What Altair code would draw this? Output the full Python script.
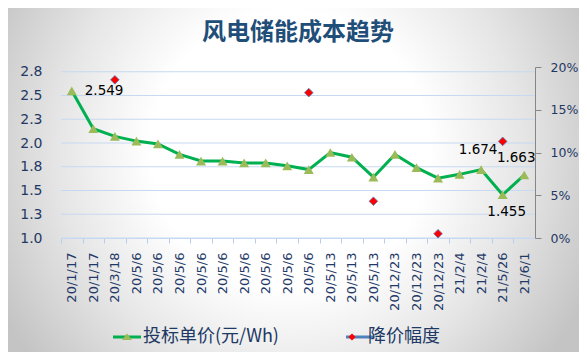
import json
import altair as alt
import pandas as pd

# ---------------- data ----------------
categories = ["20/1/17", "20/1/17", "20/3/18",
              "20/5/6", "20/5/6", "20/5/6", "20/5/6", "20/5/6",
              "20/5/6", "20/5/6", "20/5/6", "20/5/6",
              "20/5/13", "20/5/13", "20/5/13",
              "20/12/23", "20/12/23", "20/12/23",
              "21/2/4", "21/2/4", "21/5/26", "21/6/1"]
price = [2.549, 2.15, 2.07, 2.02, 1.99, 1.88, 1.81, 1.81, 1.79, 1.79, 1.76,
         1.72, 1.90, 1.85, 1.64, 1.88, 1.74, 1.63, 1.67, 1.72, 1.455, 1.663]
drop_pct = [None, None, 18.5, None, None, None, None, None, None, None, None,
            17.0, None, None, 4.3, None, None, 0.5, None, None, 11.3, None]
label_idx = [0, 19, 20, 21]
label_txt = ["2.549", "1.674", "1.455", "1.663"]
series_names = ["投标单价(元/Wh)", "降价幅度"]
line_keys = ["line-0", "line-1"]
left_ticks = [1.0, 1.25, 1.5, 1.75, 2.0, 2.25, 2.5, 2.75]
right_ticks = [0, 0.05, 0.10, 0.15, 0.20]
title_text = "风电储能成本趋势"

labels_full = [""] * len(categories)
for i, t in zip(label_idx, label_txt):
    labels_full[i] = t

df = pd.DataFrame({
    "idx": list(range(len(categories))),
    "cat": categories,
    "price": price,
    "drop": [d / 100 if d is not None else None for d in drop_pct],
    "label": labels_full,
})

W, H = 474, 171
PL, PT, PR, PB = 53, 59, 44, 114

GREEN = "#00b050"
OLIVE = "#9bbb59"
RED = "#ff0000"
BLUE = "#4f81bd"
NAVY = "#1f3864"
GRID = "#c6d9f1"

step = W / len(categories)

x_enc = alt.X(
    "idx:O",
    scale=alt.Scale(type="point", padding=0.5),
    axis=alt.Axis(
        title=None,
        labelExpr=json.dumps(categories) + "[datum.value]",
        labelAngle=270,
        labelFont="DejaVu Sans",
        labelFontSize=13,
        labelColor="#1f3a68",
        labelPadding=9,
        tickOffset=-step / 2,
        labelOffset=step / 2,
        tickSize=5,
        tickColor="#b9cde5",
        domainColor=GRID,
        grid=False,
        zindex=1,
    ),
)

left_scale = alt.Scale(domain=[1.0, 2.8], zero=False, nice=False)
left_axis = alt.Axis(
    title=None,
    values=left_ticks,
    format=".1f",
    grid=False,
    domain=False,
    ticks=False,
    labelFont="DejaVu Sans",
    labelFontSize=14,
    labelColor=NAVY,
    labelPadding=19,
    zindex=1,
)


def y_left(field):
    return alt.Y(field, scale=left_scale, axis=left_axis)


y_right = alt.Y(
    "drop:Q",
    scale=alt.Scale(domain=[0, 0.2], nice=False, zero=True),
    axis=alt.Axis(
        title=None,
        orient="right",
        values=right_ticks,
        format=".0%",
        grid=False,
        domain=True,
        domainColor="#868686",
        ticks=True,
        tickColor="#868686",
        tickSize=6,
        labelFont="DejaVu Sans",
        labelFontSize=12.5,
        labelColor=NAVY,
        labelPadding=9,
        zindex=1,
    ),
)

# background radial gradient (whole canvas)
bg = alt.Chart(pd.DataFrame({"a": [0]})).mark_rect(
    fill=alt.RadialGradient(
        gradient="radial",
        stops=[
            alt.GradientStop(color="#ffffff", offset=0),
            alt.GradientStop(color="#ffffff", offset=0.42),
            alt.GradientStop(color="#e6e6e6", offset=0.7),
            alt.GradientStop(color="#c4c4c4", offset=1),
        ],
        x1=0.494, y1=0.447, r1=0, x2=0.494, y2=0.447, r2=0.58,
    ),
    strokeWidth=0,
).encode(
    x=alt.value(-PL), x2=alt.value(W + PR),
    y=alt.value(-PT), y2=alt.value(H + PB),
)

title = alt.Chart(pd.DataFrame({"t": [title_text]})).mark_text(
    font="Noto Sans CJK SC", fontSize=24, fontWeight="bold", color="#1f4e79",
    align="center", baseline="middle",
).encode(x=alt.value(W / 2), y=alt.value(-34), text="t:N")

grid = alt.Chart(pd.DataFrame({"v": left_ticks})).mark_rule(
    color=GRID, strokeWidth=1
).encode(y=y_left("v:Q"))

base = alt.Chart(df)

line = base.mark_line(color=GREEN, strokeWidth=3).encode(x=x_enc, y=y_left("price:Q"))
tri = base.mark_point(shape="triangle-up", filled=True, size=100, color=OLIVE,
                      opacity=1).encode(x=x_enc, y=y_left("price:Q"))

label_style = [  # (align, dx, dy)
    ("left", 13, 0),
    ("center", -3, -20),
    ("center", 4, 17),
    ("center", -8, -17),
]
text_layers = []
for i, (al, dx, dy) in zip(label_idx, label_style):
    text_layers.append(
        base.transform_filter(f"datum.idx == {i}").mark_text(
            align=al, baseline="middle", dx=dx, dy=dy,
            font="DejaVu Sans", fontSize=13.5, color="#000000",
        ).encode(x=x_enc, y=y_left("price:Q"), text="label:N")
    )

# legend: a line-only legend underneath a marker-only legend
ends = "M-2.33,0L-2.33,0M2.33,0L2.33,0"
path_line = "M-2.33,0L2.33,0"
path_tri = ends + "M-0.85,0.5L0,-0.6L0.85,0.5Z"
path_dia = ends + "M-0.6,0L0,-0.6L0.6,0L0,0.6Z"

common = dict(
    title=None,
    orient="none",
    legendX=57,
    legendY=261,
    direction="horizontal",
    symbolSize=144,
    symbolOpacity=1,
    labelFont="Noto Sans CJK SC",
    labelFontSize=18,
    labelOffset=7,
    padding=0,
)
leg_line = alt.Legend(symbolType=path_line, symbolStrokeWidth=3,
                      labelExpr="''", columnPadding=57 + 136,
                      zindex=0, **common)
leg_mark = alt.Legend(symbolStrokeColor=BLUE, symbolStrokeWidth=0.7,
                      labelColor="#203864", columnPadding=57, zindex=1, **common)

legend_layer = alt.Chart(pd.DataFrame({"series": series_names,
                                       "series_l": line_keys})).transform_filter(
    "false"
).mark_point(filled=True).encode(
    fill=alt.Fill("series:N", scale=alt.Scale(domain=series_names, range=[OLIVE, RED]),
                  legend=leg_mark),
    shape=alt.Shape("series:N", scale=alt.Scale(domain=series_names, range=[path_tri, path_dia]),
                    legend=leg_mark),
    stroke=alt.Stroke("series_l:N", scale=alt.Scale(domain=line_keys, range=[GREEN, BLUE]),
                      legend=leg_line),
)

left = alt.layer(grid, line, tri, *text_layers, legend_layer)

right = base.transform_filter("isValid(datum.drop)").mark_point(
    shape="diamond", filled=True, size=75, color=RED, stroke=BLUE,
    strokeWidth=0.8, opacity=1,
).encode(x=x_enc, y=y_right)

chart = alt.layer(bg, title, left, right).resolve_scale(y="independent").properties(
    width=W,
    height=H,
    autosize=alt.AutoSizeParams(type="none"),
    padding={"left": PL, "top": PT, "right": PR, "bottom": PB},
).configure_view(strokeWidth=0).configure(background="transparent")

chart.save("out.html", embed_options={"renderer": "svg", "actions": False})
